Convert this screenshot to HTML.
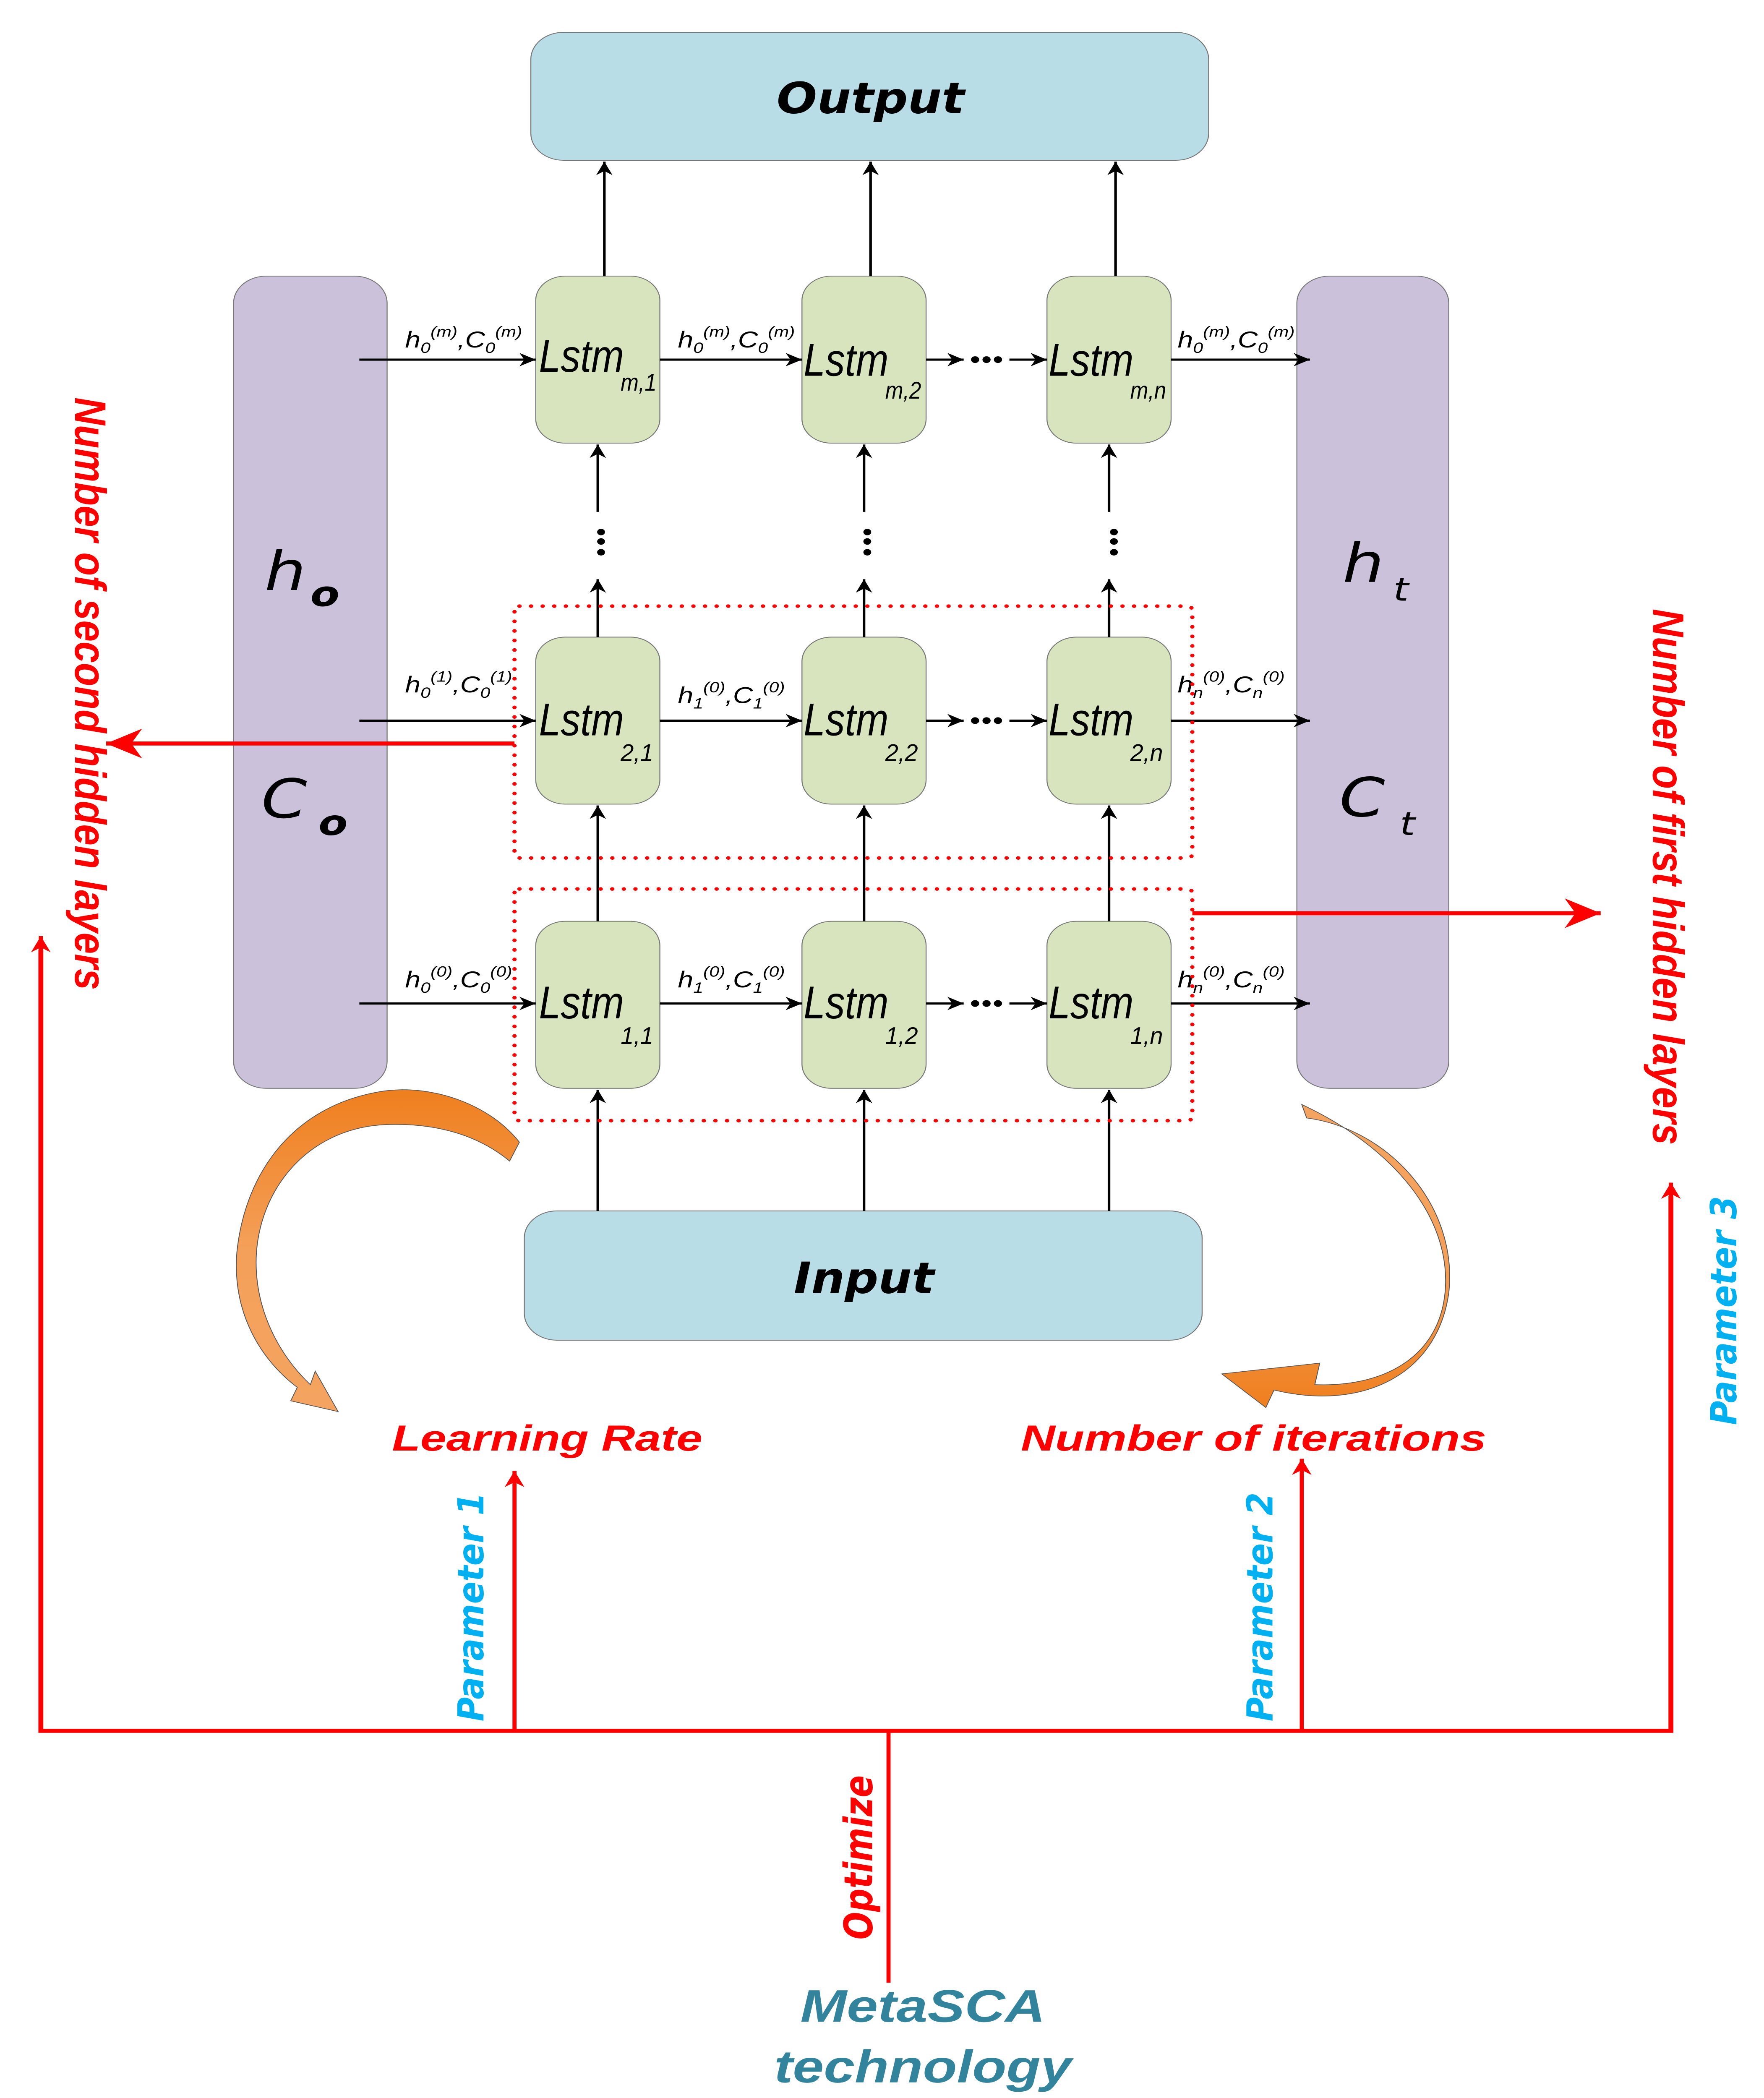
<!DOCTYPE html>
<html><head><meta charset="utf-8"><style>html,body{margin:0;padding:0;background:#fff;width:100%;height:100%;overflow:hidden}svg{display:block;position:fixed;left:0;top:0;width:100vw;height:100vh}</style></head><body>
<svg xmlns="http://www.w3.org/2000/svg" viewBox="0 0 1080 1557.6" preserveAspectRatio="none">
<defs>
<marker id="ak" viewBox="0 0 10 10" refX="10" refY="5" markerWidth="10" markerHeight="10" markerUnits="userSpaceOnUse" orient="auto"><path d="M0,0 L10,5 L0,10 L3,5 Z" fill="#000"/></marker>
<marker id="ar" viewBox="0 0 10 10" refX="10" refY="5" markerWidth="12" markerHeight="12" markerUnits="userSpaceOnUse" orient="auto"><path d="M0,0 L10,5 L0,10 L3,5 Z" fill="#f00"/></marker>
<marker id="arb" viewBox="0 0 10 10" refX="10" refY="5" markerWidth="28" markerHeight="22" markerUnits="userSpaceOnUse" orient="auto"><path d="M0,0 L10,5 L0,10 L3,5 Z" fill="#f00"/></marker>
<linearGradient id="g1" x1="0" y1="0" x2="0" y2="1"><stop offset="0" stop-color="#ef7f1e"/><stop offset="0.5" stop-color="#f4a05a"/><stop offset="1" stop-color="#f4a460"/></linearGradient>
<linearGradient id="g2" x1="0" y1="0" x2="0" y2="1"><stop offset="0" stop-color="#f4a460"/><stop offset="0.5" stop-color="#f4a05a"/><stop offset="1" stop-color="#ef7f1e"/></linearGradient>
</defs>
<g stroke="#777" stroke-width="0.6">
<rect x="325" y="24" width="415" height="95" rx="20" fill="#b8dde6"/>
<rect x="321" y="899" width="415" height="96" rx="20" fill="#b8dde6"/>
<rect x="143" y="205" width="94" height="603" rx="20" fill="#ccc1da"/>
<rect x="794" y="205" width="93" height="603" rx="20" fill="#ccc1da"/>
<g fill="#d7e4bd">
<rect x="328" y="205" width="76" height="124" rx="18"/><rect x="491" y="205" width="76" height="124" rx="18"/><rect x="641" y="205" width="76" height="124" rx="18"/>
<rect x="328" y="473" width="76" height="124" rx="18"/><rect x="491" y="473" width="76" height="124" rx="18"/><rect x="641" y="473" width="76" height="124" rx="18"/>
<rect x="328" y="684" width="76" height="124" rx="18"/><rect x="491" y="684" width="76" height="124" rx="18"/><rect x="641" y="684" width="76" height="124" rx="18"/>
</g></g>
<g font-family="'DejaVu Sans','Liberation Sans',sans-serif" font-style="italic" font-weight="bold" text-anchor="middle">
<text x="533" y="84" font-size="32" textLength="115" lengthAdjust="spacingAndGlyphs">Output</text>
<text x="529" y="960" font-size="32" textLength="86" lengthAdjust="spacingAndGlyphs">Input</text>
</g>
<g stroke="#000" stroke-width="1.6" fill="none" marker-end="url(#ak)">
<line x1="370" y1="205" x2="370" y2="120"/><line x1="533" y1="205" x2="533" y2="120"/><line x1="683" y1="205" x2="683" y2="120"/>
<line x1="366" y1="380" x2="366" y2="330"/><line x1="529" y1="380" x2="529" y2="330"/><line x1="679" y1="380" x2="679" y2="330"/>
<line x1="366" y1="473" x2="366" y2="430"/><line x1="529" y1="473" x2="529" y2="430"/><line x1="679" y1="473" x2="679" y2="430"/>
<line x1="366" y1="684" x2="366" y2="598"/><line x1="529" y1="684" x2="529" y2="598"/><line x1="679" y1="684" x2="679" y2="598"/>
<line x1="366" y1="899" x2="366" y2="809"/><line x1="529" y1="899" x2="529" y2="809"/><line x1="679" y1="899" x2="679" y2="809"/>
<line x1="220" y1="267" x2="328" y2="267"/><line x1="404" y1="267" x2="491" y2="267"/><line x1="567" y1="267" x2="590" y2="267"/><line x1="618" y1="267" x2="641" y2="267"/><line x1="717" y1="267" x2="802" y2="267"/>
<line x1="220" y1="535" x2="328" y2="535"/><line x1="404" y1="535" x2="491" y2="535"/><line x1="567" y1="535" x2="590" y2="535"/><line x1="618" y1="535" x2="641" y2="535"/><line x1="717" y1="535" x2="802" y2="535"/>
<line x1="220" y1="745" x2="328" y2="745"/><line x1="404" y1="745" x2="491" y2="745"/><line x1="567" y1="745" x2="590" y2="745"/><line x1="618" y1="745" x2="641" y2="745"/><line x1="717" y1="745" x2="802" y2="745"/>
</g>
<g fill="#000">
<circle cx="597" cy="267" r="2.5"/><circle cx="604" cy="267" r="2.5"/><circle cx="611" cy="267" r="2.5"/>
<circle cx="597" cy="535" r="2.5"/><circle cx="604" cy="535" r="2.5"/><circle cx="611" cy="535" r="2.5"/>
<circle cx="597" cy="745" r="2.5"/><circle cx="604" cy="745" r="2.5"/><circle cx="611" cy="745" r="2.5"/>
<circle cx="368" cy="395" r="2.4"/><circle cx="368" cy="402" r="2.4"/><circle cx="368" cy="410" r="2.4"/>
<circle cx="531" cy="395" r="2.4"/><circle cx="531" cy="402" r="2.4"/><circle cx="531" cy="410" r="2.4"/>
<circle cx="682" cy="395" r="2.4"/><circle cx="682" cy="402" r="2.4"/><circle cx="682" cy="410" r="2.4"/>
</g>
<g font-family="'Liberation Sans',sans-serif" font-style="italic" fill="#000">
<text x="330" y="276" font-size="34" textLength="52" lengthAdjust="spacingAndGlyphs">Lstm</text><text x="380" y="290" font-size="18" textLength="22" lengthAdjust="spacingAndGlyphs">m,1</text>
<text x="492" y="279" font-size="34" textLength="52" lengthAdjust="spacingAndGlyphs">Lstm</text><text x="542" y="296" font-size="18" textLength="22" lengthAdjust="spacingAndGlyphs">m,2</text>
<text x="642" y="279" font-size="34" textLength="52" lengthAdjust="spacingAndGlyphs">Lstm</text><text x="692" y="296" font-size="18" textLength="22" lengthAdjust="spacingAndGlyphs">m,n</text>
<text x="330" y="546" font-size="34" textLength="52" lengthAdjust="spacingAndGlyphs">Lstm</text><text x="380" y="565" font-size="18" textLength="20" lengthAdjust="spacingAndGlyphs">2,1</text>
<text x="492" y="546" font-size="34" textLength="52" lengthAdjust="spacingAndGlyphs">Lstm</text><text x="542" y="565" font-size="18" textLength="20" lengthAdjust="spacingAndGlyphs">2,2</text>
<text x="642" y="546" font-size="34" textLength="52" lengthAdjust="spacingAndGlyphs">Lstm</text><text x="692" y="565" font-size="18" textLength="20" lengthAdjust="spacingAndGlyphs">2,n</text>
<text x="330" y="756" font-size="34" textLength="52" lengthAdjust="spacingAndGlyphs">Lstm</text><text x="380" y="775" font-size="18" textLength="20" lengthAdjust="spacingAndGlyphs">1,1</text>
<text x="492" y="756" font-size="34" textLength="52" lengthAdjust="spacingAndGlyphs">Lstm</text><text x="542" y="775" font-size="18" textLength="20" lengthAdjust="spacingAndGlyphs">1,2</text>
<text x="642" y="756" font-size="34" textLength="52" lengthAdjust="spacingAndGlyphs">Lstm</text><text x="692" y="775" font-size="18" textLength="20" lengthAdjust="spacingAndGlyphs">1,n</text>
</g>
<g font-family="'Liberation Sans',sans-serif" font-style="italic" fill="#000" font-size="17">
<text x="248" y="258">h<tspan font-size="11" dy="4">0</tspan><tspan font-size="11" dy="-12">(m)</tspan><tspan dy="8">,C</tspan><tspan font-size="11" dy="4">0</tspan><tspan font-size="11" dy="-12">(m)</tspan></text>
<text x="415" y="258">h<tspan font-size="11" dy="4">0</tspan><tspan font-size="11" dy="-12">(m)</tspan><tspan dy="8">,C</tspan><tspan font-size="11" dy="4">0</tspan><tspan font-size="11" dy="-12">(m)</tspan></text>
<text x="721" y="258">h<tspan font-size="11" dy="4">0</tspan><tspan font-size="11" dy="-12">(m)</tspan><tspan dy="8">,C</tspan><tspan font-size="11" dy="4">0</tspan><tspan font-size="11" dy="-12">(m)</tspan></text>
<text x="248" y="514">h<tspan font-size="11" dy="4">0</tspan><tspan font-size="11" dy="-12">(1)</tspan><tspan dy="8">,C</tspan><tspan font-size="11" dy="4">0</tspan><tspan font-size="11" dy="-12">(1)</tspan></text>
<text x="415" y="522">h<tspan font-size="11" dy="4">1</tspan><tspan font-size="11" dy="-12">(0)</tspan><tspan dy="8">,C</tspan><tspan font-size="11" dy="4">1</tspan><tspan font-size="11" dy="-12">(0)</tspan></text>
<text x="721" y="514">h<tspan font-size="11" dy="4">n</tspan><tspan font-size="11" dy="-12">(0)</tspan><tspan dy="8">,C</tspan><tspan font-size="11" dy="4">n</tspan><tspan font-size="11" dy="-12">(0)</tspan></text>
<text x="248" y="733">h<tspan font-size="11" dy="4">0</tspan><tspan font-size="11" dy="-12">(0)</tspan><tspan dy="8">,C</tspan><tspan font-size="11" dy="4">0</tspan><tspan font-size="11" dy="-12">(0)</tspan></text>
<text x="415" y="733">h<tspan font-size="11" dy="4">1</tspan><tspan font-size="11" dy="-12">(0)</tspan><tspan dy="8">,C</tspan><tspan font-size="11" dy="4">1</tspan><tspan font-size="11" dy="-12">(0)</tspan></text>
<text x="721" y="733">h<tspan font-size="11" dy="4">n</tspan><tspan font-size="11" dy="-12">(0)</tspan><tspan dy="8">,C</tspan><tspan font-size="11" dy="4">n</tspan><tspan font-size="11" dy="-12">(0)</tspan></text>
</g>
<g font-family="'DejaVu Sans',sans-serif" font-style="italic" fill="#000">
<text x="162" y="438" font-size="40">h</text><text x="190" y="450" font-size="26" font-weight="bold">o</text>
<text x="160" y="607" font-size="40">C</text><text x="195" y="620" font-size="26" font-weight="bold">o</text>
<text x="822" y="432" font-size="40">h</text><text x="853" y="446" font-size="24">t</text>
<text x="820" y="606" font-size="40">C</text><text x="857" y="620" font-size="24">t</text>
</g>
<g fill="none" stroke="#f00" stroke-width="2.6" stroke-dasharray="0.1 7" stroke-linecap="round">
<rect x="315" y="450" width="415" height="187" rx="3"/>
<rect x="315" y="660" width="415" height="172" rx="3"/>
</g>
<g stroke="#f00" fill="none">
<line x1="315" y1="552" x2="65" y2="552" stroke-width="3" marker-end="url(#arb)"/>
<line x1="730" y1="678" x2="980" y2="678" stroke-width="3" marker-end="url(#arb)"/>
<polyline points="25,705 25,1285 1023,1285 1023,888" stroke-width="3"/>
<line x1="25" y1="1285" x2="25" y2="695" stroke-width="2.5" marker-end="url(#ar)"/>
<line x1="1023" y1="1285" x2="1023" y2="878" stroke-width="2.5" marker-end="url(#ar)"/>
<line x1="315" y1="1285" x2="315" y2="1092" stroke-width="2.5" marker-end="url(#ar)"/>
<line x1="797" y1="1285" x2="797" y2="1083" stroke-width="2.5" marker-end="url(#ar)"/>
<line x1="544" y1="1285" x2="544" y2="1472" stroke-width="2.5"/>
</g>
<path d="M318,848 C300,820 265,805 235,810 C180,820 150,870 145,930 C142,975 160,1010 182,1030 L178,1040 L207,1048 L193,1018 L190,1028 C170,1005 155,970 157,930 C160,880 190,838 235,835 C270,833 295,845 312,862 Z" fill="url(#g1)" stroke="#555" stroke-width="0.5"/>
<path d="M797,820 C850,850 887,900 885,955 C883,1005 850,1030 805,1028 L808,1012 L748,1020 L775,1045 L780,1032 C835,1048 880,1020 887,960 C893,895 850,838 800,830 Z" fill="url(#g2)" stroke="#555" stroke-width="0.5"/>
<g font-family="'Liberation Sans',sans-serif" font-style="italic" font-weight="bold" fill="#f00">
<text x="240" y="1077" font-size="27" textLength="190" lengthAdjust="spacingAndGlyphs">Learning Rate</text>
<text x="625" y="1077" font-size="27" textLength="285" lengthAdjust="spacingAndGlyphs">Number of iterations</text>
<text transform="translate(46,295) rotate(90)" font-size="27" textLength="440" lengthAdjust="spacingAndGlyphs">Number of second hidden layers</text>
<text transform="translate(1012,452) rotate(90)" font-size="27" textLength="398" lengthAdjust="spacingAndGlyphs">Number of first hidden layers</text>
</g>
<g font-family="'DejaVu Sans',sans-serif" font-style="italic" font-weight="bold">
<text transform="translate(296,1278) rotate(-90)" font-size="22" fill="#00b0f0" textLength="170" lengthAdjust="spacingAndGlyphs">Parameter 1</text>
<text transform="translate(779,1278) rotate(-90)" font-size="22" fill="#00b0f0" textLength="170" lengthAdjust="spacingAndGlyphs">Parameter 2</text>
<text transform="translate(1063,1058) rotate(-90)" font-size="22" fill="#00b0f0" textLength="170" lengthAdjust="spacingAndGlyphs">Parameter 3</text>
<text transform="translate(534,1440) rotate(-90)" font-size="24" fill="#f00" textLength="122" lengthAdjust="spacingAndGlyphs">Optimize</text>
</g>
<g font-family="'Liberation Sans',sans-serif" font-style="italic" font-weight="bold" fill="#31849b" text-anchor="middle">
<text x="565" y="1501" font-size="34" textLength="150" lengthAdjust="spacingAndGlyphs">MetaSCA</text>
<text x="565" y="1546" font-size="34" textLength="182" lengthAdjust="spacingAndGlyphs">technology</text>
</g>
</svg>
</body></html>
